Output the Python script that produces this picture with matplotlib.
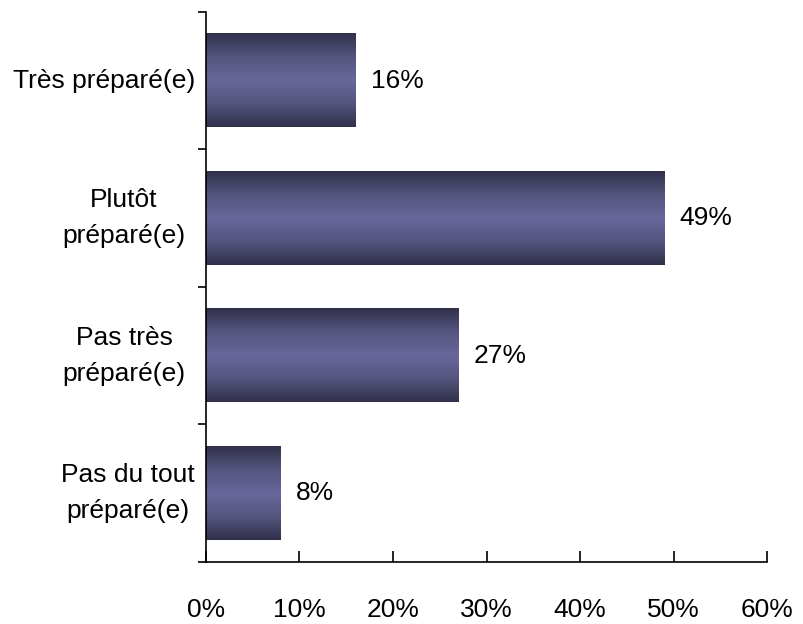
import matplotlib.pyplot as plt
import matplotlib.transforms as mtransforms
import numpy as np
from matplotlib.colors import LinearSegmentedColormap

categories = ['Très préparé(e)', 'Plutôt\npréparé(e)', 'Pas très\npréparé(e)', 'Pas du tout\npréparé(e)']
values = [16, 49, 27, 8]
xticks = [0, 10, 20, 30, 40, 50, 60]

plt.rcParams['font.family'] = ['Liberation Sans', 'DejaVu Sans']
fs = 19

fig = plt.figure(figsize=(8.04, 6.24), dpi=100)
ax = fig.add_axes([0.2562, 0.0994, 0.954 - 0.2562, 0.9808 - 0.0994])

cmap = LinearSegmentedColormap.from_list('bar', ['#30304a', '#55557f', '#67679b', '#55557f', '#30304a'])
grad = np.linspace(0, 1, 256).reshape(-1, 1)

# label centres in figure pixels (x)
label_x = [104, 124, 124, 128]
trans = mtransforms.blended_transform_factory(fig.transFigure, ax.transData)

n = len(categories)
h = 0.68
for i, (cat, v) in enumerate(zip(categories, values)):
    y = n - 1 - i
    ax.imshow(grad, extent=[0, v, y - h / 2, y + h / 2], aspect='auto', cmap=cmap,
              origin='lower', zorder=2)
    ax.text(v + 1.6, y, f'{v}%', va='center', ha='left', fontsize=fs)
    ax.text(label_x[i] / 804, y, cat, transform=trans, ha='center', va='center',
            fontsize=fs, linespacing=1.65, multialignment='center', clip_on=False)

ax.set_xlim(0, 60)
ax.set_ylim(-0.5, n - 0.5)
ax.set_xticks(xticks)
ax.set_xticklabels([f'{t}%' for t in xticks], fontsize=fs)
ax.tick_params(axis='x', direction='in', length=8, width=1.2, pad=26)

ax.set_yticks(np.arange(-0.5, n, 1.0))
ax.set_yticklabels([])
ax.tick_params(axis='y', direction='out', length=6, width=1.2)

for s in ['top', 'right']:
    ax.spines[s].set_visible(False)
for s in ['left', 'bottom']:
    ax.spines[s].set_linewidth(1.2)

fig.savefig('out.png', dpi=100)
